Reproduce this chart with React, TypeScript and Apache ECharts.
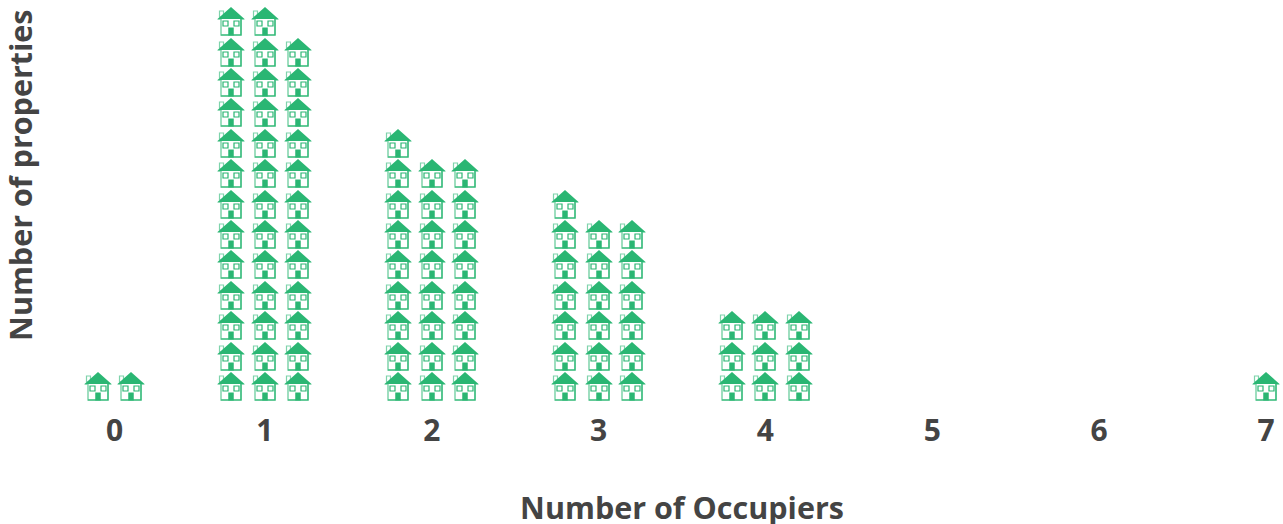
import React, { useEffect, useRef } from "react";
import * as echarts from "echarts";

const occupiers = [0, 1, 2, 3, 4, 5, 6, 7];
const propertyCounts = [2, 38, 25, 19, 9, 0, 0, 1];
const tickLabels = ["0", "1", "2", "3", "4", "5", "6", "7"];
const labelPositions = [0.1, 1, 2, 3, 4, 5, 6, 7];
const xAxisTitle = "Number of Occupiers";
const yAxisTitle = "Number of properties";

const green = "#2ab673";
const light = "#7fd3ab";
const fontFamily = "'Open Sans', sans-serif";

// One house per property, filled row by row, three to a row.
const houses: number[][] = [];
occupiers.forEach((o, i) => {
  const n = propertyCounts[i];
  const span = n >= 3 ? -0.2 : 0; // rows of three are centred on the category
  for (let k = 0; k < n; k++) {
    const col = k % 3;
    const row = Math.floor(k / 3);
    houses.push([o + span + col * 0.2, row + 1]);
  }
});

function renderHouse(_params: any, api: any) {
  const [cx, cy] = api.coord([api.value(0), api.value(1)]);
  const x = Math.round(cx);
  const y = Math.round(cy);
  const outline = (ox: number, oy: number, w: number, h: number, stroke: string, lw = 1.2) => ({
    type: "rect",
    shape: { x: x + ox, y: y + oy, width: w, height: h },
    style: { fill: "#fff", stroke, lineWidth: lw },
    silent: true,
  });
  return {
    type: "group",
    children: [
      outline(-11.5, -10, 4, 6, light),
      {
        type: "polygon",
        shape: { points: [[x, y - 14], [x + 13.5, y - 2], [x + 13.5, y - 1.5], [x - 13.5, y - 1.5], [x - 13.5, y - 2]] },
        style: { fill: green },
      },
      {
        type: "polyline",
        shape: { points: [[x - 10, y - 2], [x - 10, y + 14], [x + 10, y + 14], [x + 10, y - 2]] },
        style: { fill: "#fff", stroke: light, lineWidth: 1.5 },
      },
      {
        type: "polyline",
        shape: { points: [[x - 10, y + 14], [x + 10, y + 14], [x + 10, y - 2]] },
        style: { fill: "none", stroke: green, lineWidth: 1.2 },
      },
      outline(-8, 0, 5, 5, green),
      outline(3, 0, 5, 5, green),
      {
        type: "rect",
        shape: { x: x - 2.75, y: y + 6.5, width: 5.5, height: 8 },
        style: { fill: green },
      },
    ],
  };
}

export default function App() {
  const ref = useRef<HTMLDivElement>(null);
  useEffect(() => {
    document.body.style.margin = "0";
    const chart = echarts.init(ref.current!, undefined, { renderer: "svg" });
    chart.setOption({
      animation: false,
      grid: { left: 0, right: 0, top: 0, bottom: 107.6, containLabel: false, outerBoundsMode: "none" },
      xAxis: {
        type: "value",
        min: -0.5873,
        max: 7.1019,
        splitLine: { show: false },
        axisLine: { show: false },
        axisTick: { show: false },
        axisLabel: {
          customValues: labelPositions,
          formatter: (v: number) => tickLabels[labelPositions.indexOf(v)],
          color: "#444",
          fontFamily,
          fontWeight: 700,
          fontSize: 30,
          margin: -2,
          verticalAlign: "top",
          showMinLabel: true,
          showMaxLabel: true,
          hideOverlap: false,
        },
        name: xAxisTitle,
        nameLocation: "middle",
        nameGap: 76,
        nameTextStyle: {
          color: "#444",
          fontFamily,
          fontWeight: 700,
          fontSize: 30.5,
          lineHeight: 30,
          padding: [0, 0, 0, 81],
        },
      },
      yAxis: {
        type: "value",
        min: 0,
        max: 13.697,
        splitLine: { show: false },
        axisLine: { show: false },
        axisTick: { show: false },
        axisLabel: { show: false },
        name: yAxisTitle,
        nameLocation: "middle",
        nameGap: -35,
        nameTextStyle: {
          color: "#444",
          fontFamily,
          fontWeight: 700,
          fontSize: 30.5,
          lineHeight: 30,
          padding: [0, 0, 0, 66],
        },
      },
      series: [
        {
          type: "custom",
          name: "Properties",
          coordinateSystem: "cartesian2d",
          data: houses,
          renderItem: renderHouse,
          clip: false,
          silent: true,
        },
      ],
    });
    return () => chart.dispose();
  }, []);
  return <div ref={ref} style={{ position: "absolute", left: 0, top: 0, width: 1283, height: 524 }} />;
}
